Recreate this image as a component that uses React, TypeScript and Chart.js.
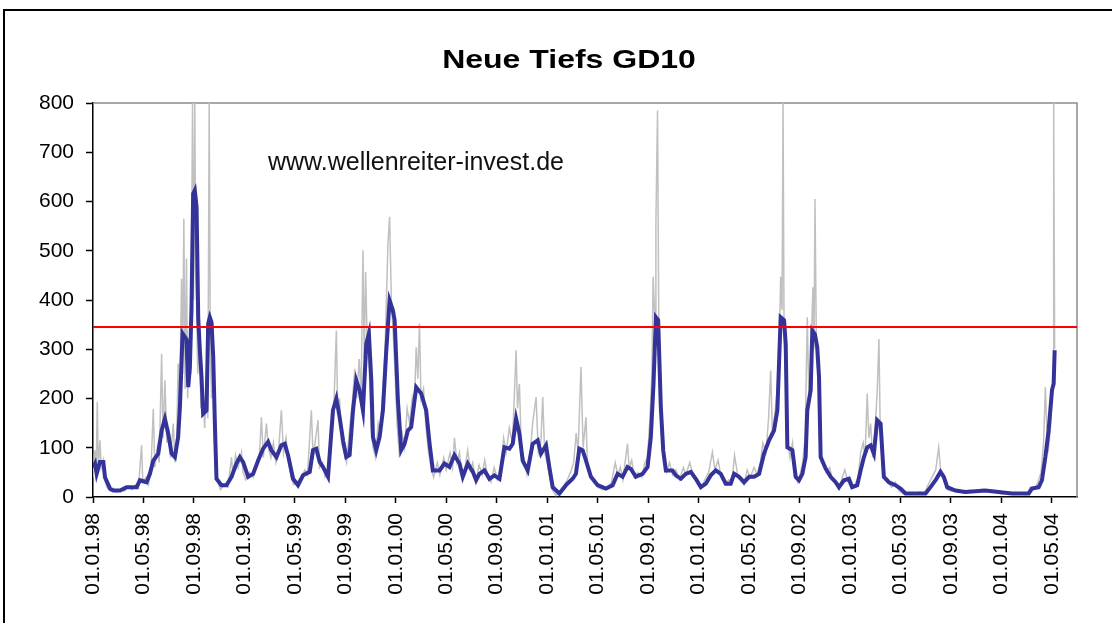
import React, { useEffect, useRef } from "react";
import { Chart, registerables } from "chart.js";

Chart.register(...registerables);

const chartTitle = "Neue Tiefs GD10";
const watermark = "www.wellenreiter-invest.de";

// x-axis: months counted from 01.01.98, one label every 4 months
const tickLabels = [
  "01.01.98", "01.05.98", "01.09.98", "01.01.99", "01.05.99", "01.09.99",
  "01.01.00", "01.05.00", "01.09.00", "01.01.01", "01.05.01", "01.09.01",
  "01.01.02", "01.05.02", "01.09.02", "01.01.03", "01.05.03", "01.09.03",
  "01.01.04", "01.05.04",
];
const monthsPerTick = 4;
const axisEndMonth = 78;
const yTicks = [0, 100, 200, 300, 400, 500, 600, 700, 800];
const threshold = 345;

// daily new lows (grey), [month, value]
const dailyNewLows: [number, number][] = [
  [0.0, 40], [0.15, 95], [0.25, 45], [0.34, 193], [0.42, 55], [0.55, 115], [0.65, 60], [0.8, 75], [0.92, 35],
  [1.1, 20], [1.35, 12], [1.6, 18], [1.9, 10], [2.2, 16], [2.5, 12], [2.8, 22], [3.1, 15], [3.4, 25], [3.6, 18],
  [3.85, 105], [3.95, 30], [4.2, 40], [4.4, 25], [4.6, 60], [4.78, 179], [4.9, 60], [5.1, 100], [5.25, 70],
  [5.44, 291], [5.55, 120], [5.7, 237], [5.85, 110], [6.0, 140], [6.15, 80], [6.36, 149], [6.5, 70], [6.62, 100],
  [6.75, 271], [6.85, 160], [7.02, 443], [7.1, 250], [7.2, 565], [7.3, 220], [7.41, 484], [7.5, 200], [7.62, 300],
  [7.75, 250], [7.89, 800], [7.97, 400], [8.07, 800], [8.14, 450], [8.21, 393], [8.3, 250], [8.45, 330], [8.55, 180],
  [8.73, 217], [8.85, 140], [9.0, 230], [9.1, 160], [9.21, 800], [9.3, 300], [9.4, 200], [9.53, 352], [9.62, 120],
  [9.75, 60], [9.9, 30], [10.1, 15], [10.4, 25], [10.7, 20], [10.98, 81], [11.1, 40], [11.3, 85], [11.5, 60],
  [11.77, 91], [11.9, 50], [12.1, 35], [12.4, 50], [12.7, 40], [12.95, 70], [13.2, 90], [13.35, 162], [13.5, 80],
  [13.75, 149], [13.9, 100], [14.1, 80], [14.3, 110], [14.5, 70], [14.7, 90], [14.93, 176], [15.1, 90], [15.3, 120],
  [15.5, 70], [15.7, 40], [15.9, 25], [16.2, 30], [16.5, 40], [16.8, 55], [17.0, 45], [17.31, 176], [17.45, 80],
  [17.6, 110], [17.84, 156], [17.95, 60], [18.2, 70], [18.4, 40], [18.7, 50], [18.9, 120], [19.05, 150],
  [19.29, 338], [19.4, 170], [19.55, 200], [19.7, 110], [19.9, 90], [20.1, 70], [20.35, 140], [20.55, 190],
  [20.75, 260], [20.9, 200], [21.1, 280], [21.25, 200], [21.4, 501], [21.5, 280], [21.61, 457], [21.75, 300],
  [21.9, 260], [22.05, 140], [22.2, 100], [22.4, 80], [22.6, 150], [22.8, 130], [23.0, 230], [23.15, 300],
  [23.38, 514], [23.51, 569], [23.65, 400], [23.8, 330], [23.95, 250], [24.1, 150], [24.3, 80], [24.5, 130],
  [24.7, 100], [24.9, 180], [25.1, 150], [25.3, 200], [25.45, 170], [25.62, 304], [25.75, 240], [25.88, 352],
  [26.0, 200], [26.2, 220], [26.4, 140], [26.6, 90], [26.8, 60], [27.0, 40], [27.3, 70], [27.5, 45], [27.8, 80],
  [28.0, 55], [28.3, 90], [28.5, 60], [28.65, 120], [28.85, 70], [29.05, 90], [29.3, 35], [29.5, 60], [29.7, 95],
  [29.9, 55], [30.1, 70], [30.35, 30], [30.6, 65], [30.85, 45], [31.05, 75], [31.3, 40], [31.55, 30], [31.8, 60],
  [32.05, 35], [32.3, 50], [32.55, 120], [32.75, 90], [33.0, 140], [33.25, 110], [33.54, 298], [33.65, 180],
  [33.8, 230], [33.95, 100], [34.15, 80], [34.4, 45], [34.6, 70], [34.85, 150], [35.12, 203], [35.3, 90],
  [35.5, 110], [35.65, 203], [35.8, 90], [36.0, 70], [36.2, 40], [36.4, 15], [36.7, 3], [37.0, 10], [37.3, 20],
  [37.6, 35], [37.85, 50], [38.1, 70], [38.3, 130], [38.45, 90], [38.68, 264], [38.85, 100], [39.08, 162],
  [39.2, 60], [39.45, 45], [39.7, 30], [40.0, 20], [40.4, 15], [40.8, 20], [41.1, 30], [41.4, 70], [41.6, 45],
  [41.8, 60], [42.0, 35], [42.37, 108], [42.5, 60], [42.7, 75], [42.9, 40], [43.2, 50], [43.5, 40], [43.75, 70],
  [43.95, 80], [44.15, 160], [44.3, 250], [44.4, 447], [44.55, 350], [44.62, 558], [44.75, 785], [44.85, 350],
  [44.95, 200], [45.1, 110], [45.25, 70], [45.45, 50], [45.7, 70], [45.95, 45], [46.2, 55], [46.5, 35], [46.8, 60],
  [47.0, 45], [47.3, 70], [47.6, 40], [47.9, 30], [48.2, 18], [48.5, 35], [48.8, 50], [49.1, 91], [49.3, 55],
  [49.55, 75], [49.8, 40], [50.1, 25], [50.4, 35], [50.65, 30], [50.85, 85], [51.1, 45], [51.35, 35], [51.6, 25],
  [51.85, 55], [52.1, 40], [52.4, 60], [52.65, 45], [52.9, 70], [53.1, 110], [53.35, 90], [53.55, 160],
  [53.72, 257], [53.85, 130], [54.05, 170], [54.25, 220], [54.4, 300], [54.51, 447], [54.62, 380], [54.7, 800],
  [54.78, 330], [54.9, 250], [55.05, 120], [55.25, 80], [55.45, 110], [55.65, 50], [55.85, 30], [56.05, 45],
  [56.25, 70], [56.45, 120], [56.62, 365], [56.75, 200], [56.9, 280], [57.07, 426], [57.15, 300], [57.23, 605],
  [57.35, 280], [57.5, 250], [57.65, 90], [57.85, 70], [58.1, 50], [58.4, 60], [58.6, 35], [58.9, 25], [59.15, 15],
  [59.4, 40], [59.6, 55], [59.85, 30], [60.1, 18], [60.4, 25], [60.65, 40], [60.85, 90], [61.05, 110], [61.2, 80],
  [61.37, 210], [61.5, 120], [61.64, 149], [61.8, 80], [61.95, 120], [62.16, 213], [62.3, 321], [62.4, 140],
  [62.55, 90], [62.75, 40], [63.0, 30], [63.3, 20], [63.6, 30], [63.9, 12], [64.3, 5], [64.7, 8], [65.1, 5],
  [65.5, 10], [65.9, 6], [66.2, 25], [66.5, 40], [66.8, 55], [67.04, 101], [67.2, 50], [67.45, 35], [67.7, 15],
  [68.0, 12], [68.5, 15], [69.0, 8], [69.5, 14], [70.0, 10], [70.5, 16], [71.0, 10], [71.5, 12], [72.0, 6],
  [72.5, 9], [73.0, 5], [73.5, 8], [74.0, 5], [74.3, 20], [74.6, 15], [74.9, 30], [75.15, 50], [75.35, 110],
  [75.49, 223], [75.62, 130], [75.75, 100], [75.88, 135], [76.0, 200], [76.1, 250], [76.15, 800], [76.23, 300],
];

// GD10 (blue), [month, value]
const gd10: [number, number][] = [
  [0.0, 60], [0.16, 68], [0.29, 47], [0.55, 71], [0.82, 71], [0.95, 40], [1.35, 17], [1.61, 13], [2.14, 13],
  [2.66, 20], [3.46, 20], [3.72, 34], [4.25, 30], [4.51, 47], [4.78, 74], [5.17, 88], [5.44, 135], [5.7, 159],
  [5.96, 129], [6.23, 88], [6.49, 81], [6.75, 122], [6.89, 183], [7.1, 332], [7.28, 325], [7.41, 320], [7.55, 223],
  [7.68, 264], [7.81, 386], [7.94, 616], [8.07, 623], [8.21, 589], [8.34, 365], [8.47, 298], [8.6, 244], [8.73, 169],
  [9.0, 176], [9.13, 352], [9.26, 365], [9.39, 355], [9.53, 284], [9.66, 149], [9.79, 37], [10.18, 24], [10.58, 24],
  [10.98, 41], [11.37, 68], [11.64, 81], [11.9, 71], [12.3, 41], [12.69, 47], [13.09, 74], [13.48, 98], [13.88, 112],
  [14.14, 95], [14.54, 81], [14.93, 105], [15.2, 108], [15.46, 85], [15.86, 37], [16.25, 24], [16.65, 44],
  [17.18, 51], [17.44, 95], [17.7, 98], [17.97, 71],
  [18.23, 61], [18.63, 41], [19.02, 176], [19.29, 200], [19.55, 162], [19.82, 115], [20.08, 81], [20.34, 85],
  [20.61, 176], [20.87, 237], [21.13, 217], [21.4, 176], [21.66, 311], [21.87, 332], [22.06, 237], [22.19, 122],
  [22.45, 95], [22.72, 122], [22.98, 176], [23.25, 298], [23.51, 399], [23.77, 379], [23.91, 359], [24.17, 196],
  [24.43, 95], [24.7, 108], [24.96, 135], [25.22, 142], [25.62, 223], [26.02, 210], [26.41, 176], [26.68, 108],
  [26.94, 54], [27.47, 54], [27.86, 68], [28.26, 61], [28.65, 85], [29.05, 68], [29.31, 41], [29.71, 68],
  [30.11, 51], [30.37, 34], [30.63, 47], [31.03, 54], [31.42, 37], [31.82, 44], [32.22, 37], [32.61, 101],
  [33.01, 98], [33.27, 108], [33.54, 159], [33.8, 129], [34.06, 74], [34.46, 54], [34.85, 108], [35.25, 115],
  [35.51, 88], [35.91, 105], [36.17, 61], [36.44, 20], [36.97, 7],
  [37.49, 24], [38.02, 37], [38.28, 47], [38.55, 98], [38.81, 95], [39.08, 74], [39.47, 41], [40.0, 24],
  [40.66, 17], [41.19, 24], [41.58, 47], [41.98, 41], [42.37, 61], [42.64, 57], [43.03, 41], [43.56, 47],
  [43.96, 61], [44.22, 122], [44.43, 230], [44.62, 365], [44.8, 359], [45.01, 183], [45.2, 95], [45.41, 54],
  [45.93, 54], [46.2, 44], [46.6, 37], [46.99, 47], [47.39, 51], [47.78, 37], [48.18, 20], [48.58, 27], [48.97, 44],
  [49.37, 54], [49.76, 47], [50.16, 27], [50.55, 27], [50.82, 47], [51.21, 41], [51.61, 30], [52.01, 41],
  [52.4, 41], [52.8, 47], [53.19, 88], [53.59, 115], [53.98, 135], [54.25, 176], [54.51, 365], [54.78, 359],
  [54.91, 311], [55.04, 101], [55.44, 95], [55.7, 41], [55.96, 34],
  [56.23, 47], [56.49, 81], [56.62, 176], [56.89, 217], [57.02, 338], [57.23, 330], [57.41, 304], [57.55, 244],
  [57.68, 81], [58.07, 58], [58.47, 41], [58.87, 30], [59.13, 20], [59.53, 34], [59.92, 37], [60.18, 20],
  [60.58, 24], [60.85, 54], [61.11, 81], [61.37, 101], [61.64, 105], [61.9, 88], [62.16, 156], [62.43, 149],
  [62.69, 41], [63.09, 30], [63.61, 24], [64.01, 17], [64.41, 7], [65.99, 7], [66.39, 20], [66.79, 34],
  [67.18, 51], [67.44, 41], [67.71, 20], [68.36, 13], [69.16, 10], [70.74, 13], [72.85, 7], [74.17, 7],
  [74.43, 17], [74.96, 20], [75.22, 34], [75.49, 81], [75.75, 135], [76.02, 217], [76.15, 230], [76.23, 298],
];

const FONT = '"Liberation Sans", Arial, sans-serif';

const decorPlugin = {
  id: "decor",
  beforeDraw(chart: any) {
    const { ctx, width, height } = chart;
    ctx.save();
    ctx.fillStyle = "#ffffff";
    ctx.fillRect(0, 0, width, height);
    ctx.fillStyle = "#000000";
    ctx.fillRect(3, 9, width, 2);
    ctx.fillRect(3, 9, 2, height);
    ctx.font = `bold 25px ${FONT}`;
    ctx.textAlign = "center";
    ctx.textBaseline = "alphabetic";
    ctx.translate(569, 68);
    ctx.scale(1.28, 1);
    ctx.fillText(chartTitle, 0, 0);
    ctx.restore();
  },
  beforeDatasetsDraw(chart: any) {
    const { ctx, chartArea } = chart;
    ctx.save();
    ctx.strokeStyle = "#8c8c8c";
    ctx.lineWidth = 1.5;
    ctx.beginPath();
    ctx.moveTo(chartArea.left, chartArea.top);
    ctx.lineTo(chartArea.right, chartArea.top);
    ctx.lineTo(chartArea.right, chartArea.bottom);
    ctx.stroke();
    ctx.fillStyle = "#111111";
    ctx.font = `25px ${FONT}`;
    ctx.textAlign = "left";
    ctx.textBaseline = "alphabetic";
    ctx.fillText(watermark, 268, 170);
    ctx.restore();
  },
};

export default function App() {
  const canvasRef = useRef<HTMLCanvasElement | null>(null);

  useEffect(() => {
    document.body.style.margin = "0";
    const canvas = canvasRef.current;
    if (!canvas) return;
    const chart = new Chart(canvas, {
      type: "line",
      data: {
        datasets: [
          {
            label: "Schwelle",
            data: [
              { x: 0, y: threshold },
              { x: axisEndMonth, y: threshold },
            ],
            borderColor: "#ff0000",
            borderWidth: 2,
            pointRadius: 0,
          },
          {
            label: "GD10",
            data: gd10.map(([x, y]) => ({ x, y })),
            borderColor: "#333399",
            borderWidth: 4,
            pointRadius: 0,
          },
          {
            label: "Neue Tiefs",
            data: dailyNewLows.map(([x, y]) => ({ x, y })),
            borderColor: "#c0c0c0",
            borderWidth: 1.5,
            pointRadius: 0,
          },
        ],
      },
      options: {
        responsive: false,
        animation: false,
        devicePixelRatio: 1,
        layout: { padding: { top: 103, right: 35, left: 0, bottom: 0 } },
        plugins: {
          legend: { display: false },
          tooltip: { enabled: false },
          title: { display: false },
        },
        elements: { line: { tension: 0 }, point: { radius: 0 } },
        scales: {
          x: {
            type: "linear",
            min: 0,
            max: axisEndMonth,
            afterBuildTicks: (scale: any) => {
              scale.ticks = tickLabels.map((_, i) => ({ value: i * monthsPerTick }));
            },
            afterFit: (scale: any) => {
              scale.height = 126;
            },
            ticks: {
              autoSkip: false,
              maxRotation: 90,
              minRotation: 90,
              padding: 10,
              color: "#000000",
              font: { family: FONT, size: 21 },
              callback: (_v: any, i: number) => tickLabels[i] ?? "",
            },
            grid: {
              drawOnChartArea: false,
              drawTicks: true,
              tickLength: 6,
              tickColor: "#000000",
              tickWidth: 1.5,
            },
            border: { display: true, color: "#000000", width: 1.5 },
          },
          y: {
            min: 0,
            max: 800,
            afterBuildTicks: (scale: any) => {
              scale.ticks = yTicks.map((v) => ({ value: v }));
            },
            afterFit: (scale: any) => {
              scale.width = 93;
            },
            ticks: {
              padding: 12,
              color: "#000000",
              font: { family: FONT, size: 21 },
              callback: (v: any) => String(v),
            },
            grid: {
              drawOnChartArea: false,
              drawTicks: true,
              tickLength: 7,
              tickColor: "#000000",
              tickWidth: 1.5,
            },
            border: { display: true, color: "#000000", width: 1.5 },
          },
        },
      },
      plugins: [decorPlugin],
    });
    return () => chart.destroy();
  }, []);

  return (
    <canvas
      ref={canvasRef}
      width={1112}
      height={623}
      style={{ position: "absolute", left: 0, top: 0, width: 1112, height: 623, display: "block" }}
    />
  );
}
